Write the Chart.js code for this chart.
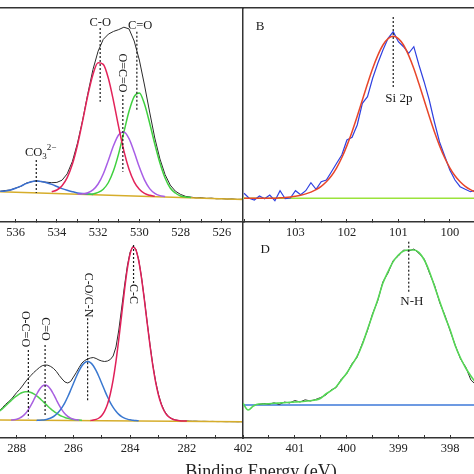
<!DOCTYPE html>
<html lang="en">
<head>
<meta charset="UTF-8">
<title>XPS spectra</title>
<style>
  html, body { margin: 0; padding: 0; background: #fff; }
  body { width: 474px; height: 474px; position: relative; overflow: hidden; }
  canvas { position: absolute; }
  #xtitle {
    position: absolute; left: 141px; width: 240px; top: 462px;
    text-align: center; white-space: nowrap; color: #222;
    font: 18px/18px "Liberation Serif", "Times New Roman", serif;
  }
</style>
<script src="https://cdn.jsdelivr.net/npm/chart.js"></script>
</head>
<body>
<canvas id="panelA" width="283" height="250" style="left:-20px;top:0"></canvas>
<canvas id="panelB" width="271" height="250" style="left:223px;top:0"></canvas>
<canvas id="panelC" width="283" height="268" style="left:-20px;top:200px"></canvas>
<canvas id="panelD" width="271" height="268" style="left:223px;top:200px"></canvas>
<div id="xtitle">Binding Energy (eV)</div>
<script>
// ---------- A : O 1s ----------
const gridA = [536.75, 536.5, 536.25, 536.0, 535.75, 535.5, 535.25, 535.0, 534.75, 534.5, 534.25, 534.0,
  533.75, 533.5, 533.25, 533.0, 532.75, 532.5, 532.25, 532.0, 531.75, 531.5, 531.25, 531.0,
  530.75, 530.5, 530.25, 530.0, 529.75, 529.5, 529.25, 529.0, 528.75, 528.5, 528.25, 528.0,
  527.75, 527.5, 527.25, 527.0, 526.75, 526.5, 526.25, 526.0, 525.75, 525.5, 525.25, 525.0];
const rawA = [30.7, 31.5, 32.0, 34.0, 35.6, 38.8, 40.1, 41.3, 40.3, 39.8, 39.3, 39.6,
  41.8, 48.2, 60.4, 78.9, 102.0, 128.3, 152.5, 170.8, 182.6, 187.9, 190.6, 192.4,
  194.8, 193.1, 181.0, 162.0, 137.0, 110.0, 84.0, 63.0, 47.4, 36.9, 30.8, 27.6,
  25.6, 24.9, 24.1, 24.3, 23.6, 23.9, 23.2, 23.4, 22.9, 23.1, 22.6, 22.8];
const co3A = [30.7, 31.1, 32.1, 33.7, 35.9, 38.4, 40.3, 41.0, 40.5, 39.3, 37.6, 35.5, 33.4, 31.7, 30.3, 29.1, 28.4, 27.9, 27.5]; // from 536.75
const coA = [30.2, 32.0, 36.3, 44.4, 57.7, 77.0, 101.1, 126.5, 147.6, 159.2, 157.6, 143.5, 120.7, 94.9, 71.1, 52.7, 40.2, 32.7, 28.6, 26.7, 25.7]; // from 534.25
const ocoA = [28.0, 28.3, 29.3, 32.1, 38.0, 48.0, 61.8, 76.5, 87.3, 90.0, 83.4, 70.0, 54.9, 42.1, 33.4, 28.7, 26.4, 25.4]; // from 533.0
const c_oA = [27.8, 28.1, 29.6, 32.8, 39.5, 51.4, 68.6, 89.8, 110.7, 125.4, 129.1, 118, 99, 78, 59, 44, 34, 29, 26, 25, 24.5]; // from 532.5
const baseAE = [536.76, 524.97];
const baseAV = [30.3, 22.5];
const peakAE = [531.9, 530.12, 530.8, 535.0];
const peakATop = [194, 190.3, 127, 62];
const peakABot = [120.3, 112, 50.3, 29];

// ---------- B : Si 2p ----------
const gridB = [104.0, 103.9, 103.8, 103.7, 103.6, 103.5, 103.4, 103.3, 103.2, 103.1, 103.0, 102.9,
  102.8, 102.7, 102.6, 102.5, 102.4, 102.3, 102.2, 102.1, 102.0, 101.9, 101.8, 101.7,
  101.6, 101.5, 101.4, 101.3, 101.2, 101.1, 101.0, 100.9, 100.8, 100.7, 100.6, 100.5,
  100.4, 100.3, 100.2, 100.1, 100.0, 99.9, 99.8, 99.7, 99.6, 99.5];
const rawB = [28.7, 23.7, 22, 26, 23.3, 27, 21.3, 31.3, 23.3, 24, 31.3, 27.3,
  31.3, 39.3, 32.7, 40.3, 42, 50.3, 58.7, 67, 82, 84.7, 97, 118.7,
  125.3, 143.7, 158.7, 172, 183.7, 190.3, 180.3, 175.3, 168.7, 175.3, 157, 140.3,
  122, 100, 80, 66, 52, 42, 35.3, 32.7, 30.3, 32];
const fitB = [23.7, 23.7, 23.7, 23.7, 23.7, 23.7, 23.7, 24.2, 24.5, 25.0, 25.7, 26.7,
  28.1, 29.9, 32.4, 35.7, 40.2, 46.2, 54.2, 64.2, 76.4, 90.3, 105.7, 122.0,
  138.2, 153.5, 166.6, 177.0, 183.4, 185.7, 183.4, 177.0, 166.6, 153.5, 138.2, 122.0,
  105.7, 90.3, 76.4, 64.2, 54.2, 46.2, 40.2, 35.7, 32.4, 29.9];
const baseBE = [104.02, 99.53];
const baseBV = [23.7, 23.7];
const peakBE = [101.1];
const peakBTop = [205];
const peakBBot = [134];

// ---------- C : C 1s ----------
const gridC = [288.6, 288.5, 288.4, 288.3, 288.2, 288.1, 288.0, 287.9, 287.8, 287.7, 287.6, 287.5,
  287.4, 287.3, 287.2, 287.1, 287.0, 286.9, 286.8, 286.7, 286.6, 286.5, 286.4, 286.3,
  286.2, 286.1, 286.0, 285.9, 285.8, 285.7, 285.6, 285.5, 285.4, 285.3, 285.2, 285.1,
  285.0, 284.9, 284.8, 284.7, 284.6, 284.5, 284.4, 284.3, 284.2, 284.1, 284.0, 283.9,
  283.8, 283.7, 283.6, 283.5, 283.4, 283.3, 283.2, 283.1, 283.0, 282.9, 282.8, 282.7,
  282.6, 282.5, 282.4, 282.3, 282.2, 282.1, 282.0, 281.9, 281.8, 281.7, 281.6, 281.5,
  281.4, 281.3, 281.2, 281.1, 281.0, 280.9, 280.8, 280.7, 280.6, 280.5, 280.4, 280.3,
  280.2, 280.1, 280.0];
const rawC = [27.5, 30.5, 33.5, 36, 38.5, 42, 45.5, 48.5, 52, 56, 59.5, 62.5,
  65.5, 68, 70.5, 72.3, 73, 72.8, 71.5, 69.5, 66.5, 62.5, 59, 56,
  55, 56.5, 61, 65.5, 70.5, 75, 77.5, 79, 80, 80.5, 79.5, 78,
  77, 76.5, 77, 78.5, 82, 91, 108, 130, 152, 172, 186, 191.5,
  189, 178.5, 161, 139.5, 116, 93.5, 73, 56.5, 43.5, 34, 27.5, 23.2,
  20.5, 19, 18, 17.5, 17.2, 17.0, 17.1, 16.9, 16.8, 16.9, 16.7, 16.6,
  16.7, 16.6, 16.5, 16.6, 16.5, 16.4, 16.5, 16.4, 16.3, 16.4, 16.3, 16.3,
  16.2, 16.3, 16.2];
const oco_C = [27.1, 29.4, 32.0, 34.7, 37.4, 40.1, 42.2, 44.1, 45.5, 46.2, 46.2, 45.5, 44.1, 42.2, 39.9,
  37.2, 34.4, 31.7, 29.1, 26.8, 24.8, 23.0, 21.6, 20.5, 19.7, 19.1, 18.6, 18.2, 17.9, 17.6]; // from 288.6
const co_C = [17.95, 18.25, 18.8, 19.9, 21.6, 24.2, 27.9, 32.6, 38.0, 43.6, 48.5, 51.8, 53.0, 51.8, 48.5,
  43.6, 38.0, 32.6, 27.9, 24.2, 21.6, 19.9, 18.8, 18.25, 17.95]; // from 288.2
const con_C = [17.6, 17.7, 17.9, 18.3, 19.0, 20.0, 21.5, 23.7, 26.7, 30.6, 35.4, 41.2, 47.7, 54.5, 61.3,
  67.3, 72.2, 75.3, 76.4, 75.3, 72.2, 67.3, 61.3, 54.5, 47.7, 41.2, 35.4, 30.6, 26.7, 23.6,
  21.4, 19.9, 18.9, 18.2, 17.8, 17.5, 17.3]; // from 287.3
const cc_C = [17.5, 17.9, 18.6, 20.0, 22.6, 26.9, 33.7, 44.0, 58.1, 76.6, 98.8, 123.2, 147.6, 169.0, 184.2,
  191.0, 188.3, 177.5, 160.2, 138.5, 115.1, 92.5, 72.3, 55.6, 42.7, 33.4, 27.0, 22.8, 20.3, 18.8,
  17.9, 17.4, 17.1, 17.0, 16.9]; // from 285.4
const baseCE = [288.59, 280.02];
const baseCV = [18.0, 16.3];
const peakCE = [287.59, 287.0, 285.5, 283.88];
const peakCTop = [88, 93, 119.7, 193];
const peakCBot = [19.7, 21.3, 36.3, 153];

// ---------- D : N 1s ----------
const gridD = [402.0, 401.9, 401.8, 401.7, 401.6, 401.5, 401.4, 401.3, 401.2, 401.1, 401.0, 400.9,
  400.8, 400.7, 400.6, 400.5, 400.4, 400.3, 400.2, 400.1, 400.0, 399.9, 399.8, 399.7,
  399.6, 399.5, 399.4, 399.3, 399.2, 399.1, 399.0, 398.9, 398.8, 398.7, 398.6, 398.5,
  398.4, 398.3, 398.2, 398.1, 398.0, 397.9, 397.8, 397.7, 397.6, 397.5];
const smoothD = [34.7, 28, 32, 34, 34, 34.3, 34.7, 35, 35.3, 35.7, 36, 36.3,
  36.7, 37.3, 38, 39.7, 44, 47.3, 51.3, 58, 64.7, 73, 81.3, 93,
  108, 123, 138, 154.7, 166.3, 176.3, 183, 187, 188, 188, 185.3, 178,
  166.3, 151.3, 136.3, 121.3, 108, 92, 80, 70, 62, 55];
const rawD = [33.5, 34.5, 33.8, 35.2, 33.5, 36, 35, 37.5, 36, 38.2, 37, 38.5,
  40.5, 43, 48, 50.5, 59, 64, 74, 80.5, 94, 107, 124, 137,
  156, 165, 177.5, 182, 188, 187, 189, 184.5, 179, 165, 152.5, 135,
  122.5, 107, 92.5, 79, 71, 58, 53]; // from 401.7
const baseDE = [402.0, 397.54];
const baseDV = [33, 33];
const peakDE = [398.8];
const peakDTop = [196.3];
const peakDBot = [146.3];

// ---------- helpers ----------
const FONT = '"Liberation Serif", "Times New Roman", serif';
const INK = '#333';

function pts(grid, start, vals) {
  const i0 = grid.indexOf(start);
  return vals.map((v, i) => ({x: grid[i0 + i], y: v}));
}
function pair(es, vs) {
  return es.map((e, i) => ({x: e, y: vs[i]}));
}
function curve(data, color, width, smooth) {
  return {data, borderColor: color, borderWidth: width, pointRadius: 0, fill: false,
    tension: 0, cubicInterpolationMode: smooth ? 'monotone' : 'default'};
}
function markers(es, tops, bots) {
  return es.map((e, i) => ({
    data: [{x: e, y: tops[i]}, {x: e, y: bots[i]}],
    borderColor: '#1a1a1a', borderWidth: 1.2, borderDash: [2, 2], pointRadius: 0
  }));
}
const isWhole = v => Math.abs(v - Math.round(v)) < 1e-6;

// text labels placed at data coordinates
const notesPlugin = {
  id: 'notes',
  afterDraw(chart, args, opts) {
    const {ctx, scales} = chart;
    ctx.save();
    ctx.fillStyle = '#1a1a1a';
    ctx.textBaseline = 'middle';
    for (const n of opts.items || []) {
      const px = scales.x.getPixelForValue(n.e);
      const py = scales.y.getPixelForValue(n.v);
      const size = n.size || 12.5;
      ctx.save();
      ctx.translate(px, py);
      if (n.rot) ctx.rotate(n.rot * Math.PI / 180);
      if (n.parts) {
        ctx.textAlign = 'left';
        let cx = 0;
        n.parts.forEach(p => {
          ctx.font = (p.small ? size * 0.72 : size) + 'px ' + FONT;
          ctx.fillText(p.t, cx, p.dy || 0);
          cx += ctx.measureText(p.t).width;
        });
      } else {
        ctx.textAlign = 'center';
        ctx.font = size + 'px ' + FONT;
        ctx.fillText(n.text, 0, 0);
      }
      ctx.restore();
    }
    ctx.restore();
  }
};

function makePanel(id, cfg) {
  const scales = {
    x: {
      type: 'linear', reverse: true, min: cfg.min, max: cfg.max,
      grid: {drawOnChartArea: false, tickLength: -3, color: INK, tickWidth: 1},
      border: {color: INK, width: 1.5},
      ticks: {stepSize: cfg.step, includeBounds: false, autoSkip: false, maxRotation: 0,
        padding: 6, color: '#222', font: {family: FONT, size: 12.5}, callback: cfg.label},
      afterFit: s => { s.height = cfg.axisH; s.paddingLeft = 0; s.paddingRight = 0; }
    },
    y: {
      type: 'linear', min: 0, max: cfg.ymax, display: cfg.leftBorder,
      grid: {display: false}, ticks: {display: false},
      border: {display: true, color: INK, width: 1.5},
      afterFit: s => { s.width = 0; }
    }
  };
  if (cfg.topBorder) {
    scales.xTop = {
      type: 'linear', position: 'top', min: 0, max: 1,
      grid: {display: false}, ticks: {display: false},
      border: {display: true, color: INK, width: 1.5},
      afterFit: s => { s.height = 0; }
    };
  }
  return new Chart(document.getElementById(id), {
    type: 'line',
    data: {datasets: cfg.datasets},
    options: {
      responsive: false, animation: false, events: [],
      layout: {padding: {left: 20, right: 20, top: cfg.top, bottom: 0}},
      plugins: {legend: {display: false}, tooltip: {enabled: false}, notes: {items: cfg.notes}},
      scales
    },
    plugins: [notesPlugin]
  });
}

// datasets listed first are drawn on top
makePanel('panelA', {
  min: 524.97, max: 536.76, step: 1, ymax: 214, top: 8, axisH: 28, topBorder: true, leftBorder: false,
  label: v => (isWhole(v) && Math.round(v) % 2 === 0 ? String(Math.round(v)) : ''),
  datasets: [
    ...markers(peakAE, peakATop, peakABot),
    curve(pts(gridA, 534.25, coA), '#e3245a', 1.5, true),
    curve(pts(gridA, 533.0, ocoA), '#a85ee6', 1.5, true),
    curve(pts(gridA, 532.5, c_oA), '#3fd03f', 1.5, true),
    curve(pts(gridA, 536.75, co3A), '#3a6fd0', 1.5, true),
    curve(pair(baseAE, baseAV), '#d6ad2b', 1.5, false),
    curve(pair(gridA, rawA), '#2b2b2b', 1, false)
  ],
  notes: [
    {text: 'C-O', e: 531.9, v: 199.3},
    {text: 'C=O', e: 529.96, v: 196},
    {text: 'O=C=O', e: 530.85, v: 149, rot: 90, size: 12},
    {e: 535.55, v: 69, parts: [{t: 'CO'}, {t: '3', small: true, dy: 4}, {t: '2\u2212', small: true, dy: -5}]}
  ]
});

makePanel('panelB', {
  min: 99.53, max: 104.02, step: 0.5, ymax: 214, top: 8, axisH: 28, topBorder: true, leftBorder: true,
  label: v => (isWhole(v) && v < 103.5 ? String(Math.round(v)) : ''),
  datasets: [
    ...markers(peakBE, peakBTop, peakBBot),
    curve(pair(gridB, fitB), '#e8462a', 1.5, true),
    curve(pair(gridB, rawB), '#2f40e0', 1.2, false),
    curve(pair(baseBE, baseBV), '#9be33c', 1.5, false)
  ],
  notes: [
    {text: 'B', e: 103.69, v: 195.3, size: 13},
    {text: 'Si 2p', e: 100.99, v: 123.7, size: 13}
  ]
});

makePanel('panelC', {
  min: 280.02, max: 288.59, step: 1, ymax: 216, top: 22, axisH: 30, topBorder: false, leftBorder: false,
  label: v => (isWhole(v) && Math.round(v) % 2 === 0 ? String(Math.round(v)) : ''),
  datasets: [
    ...markers(peakCE, peakCTop, peakCBot),
    curve(pts(gridC, 285.4, cc_C), '#e0205a', 1.5, true),
    curve(pts(gridC, 287.3, con_C), '#3a78d0', 1.5, true),
    curve(pts(gridC, 288.2, co_C), '#a860e0', 1.5, true),
    curve(pts(gridC, 288.6, oco_C), '#4cd04c', 1.5, true),
    curve(pair(baseCE, baseCV), '#d6ad2b', 1.5, false),
    curve(pair(gridC, rawC), '#2b2b2b', 1, false)
  ],
  notes: [
    {text: 'O-C=O', e: 287.71, v: 109, rot: 90, size: 12},
    {text: 'C=O', e: 287.0, v: 109, rot: 90, size: 12},
    {text: 'C-O/C-N', e: 285.47, v: 143, rot: 90, size: 12},
    {text: 'C-C', e: 283.88, v: 144, rot: 90, size: 12}
  ]
});

makePanel('panelD', {
  min: 397.54, max: 402.0, step: 0.5, ymax: 216, top: 22, axisH: 30, topBorder: false, leftBorder: true,
  label: v => (isWhole(v) ? String(Math.round(v)) : ''),
  datasets: [
    ...markers(peakDE, peakDTop, peakDBot),
    curve(pair(gridD, smoothD), '#55d855', 1.6, true),
    curve(pts(gridD, 401.7, rawD), '#333', 1, false),
    curve(pair(baseDE, baseDV), '#3c78d8', 1.5, false)
  ],
  notes: [
    {text: 'D', e: 401.57, v: 188.7, size: 13},
    {text: 'N-H', e: 398.74, v: 136.3, size: 13}
  ]
});
</script>
</body>
</html>
